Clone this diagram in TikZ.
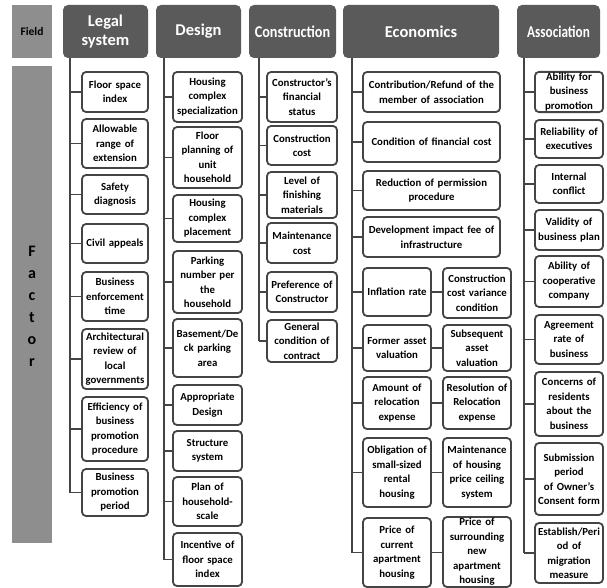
\documentclass[tikz,border=0pt]{standalone}
\usepackage{fontspec}
\setmainfont{Carlito}
\usepackage{graphicx}
\usepackage{tikz}
\usetikzlibrary{positioning, calc}
\definecolor{headgray}{HTML}{5A5A5A}
\definecolor{sidegray}{HTML}{8E8E8E}
\definecolor{linegray}{HTML}{444444}

\begin{document}
\begin{tikzpicture}[x=1pt,y=-1pt,
    fbox/.style={draw=linegray, line width=1.8pt, rounded corners=4pt, fill=white,
      align=center, inner xsep=2pt, inner ysep=1pt,
      font=\bfseries\fontsize{10.8}{14.5}\selectfont},
    head/.style={fill=headgray, rounded corners=5pt, text=white, align=center,
      minimum height=53pt, inner sep=0pt, font=\bfseries\fontsize{16.5}{19}\selectfont},
    side/.style={fill=sidegray, inner sep=0pt},
    tline/.style={draw=linegray, line width=1.5pt},
    legw/.style={text width=62pt},
    desw/.style={text width=65pt},
    conw/.style={text width=66pt},
    ecow/.style={text width=133pt},
    pairw/.style={text width=64pt},
    assw/.style={text width=64pt}]
      \useasboundingbox (0,0) rectangle (607,588);
      % column centres
      \pgfmathsetmacro{\legX}{115}
      \pgfmathsetmacro{\desX}{207.5}
      \pgfmathsetmacro{\conX}{302}
      \pgfmathsetmacro{\ecoX}{431.5}
      \pgfmathsetmacro{\eclX}{397}
      \pgfmathsetmacro{\ecrX}{477}
      \pgfmathsetmacro{\assX}{569}

      % left side bars
      \node[side, minimum width=40pt, minimum height=53pt, font=\bfseries\fontsize{11.5}{13}\selectfont]
        (field) at (32,31.5) {Field};
      \node[side, minimum width=40pt, minimum height=477pt] (factor) at (32,304.5) {};
      \foreach \ch [count=\i from 0] in {F,a,c,t,o,r}
        \node[anchor=base, inner sep=0pt, font=\bfseries\fontsize{16}{18}\selectfont]
          (fac\i) at (32,256+22*\i) {\ch};

      % trunk coordinates
      \coordinate (legT) at (70,58);
      \coordinate (desT) at (164,58);
      \coordinate (conT) at (259,58);
      \coordinate (ecoT) at (352,58);
      \coordinate (assT) at (524,58);

      % Legal system
      \node[fbox, legw, minimum height=40pt] (leg1) at (\legX,92) {Floor space\\index};
      \node[fbox, legw, minimum height=49pt] (leg2) at (\legX,143.5) {Allowable\\range of\\extension};
      \node[fbox, legw, minimum height=39pt] (leg3) at (\legX,194.5) {Safety\\diagnosis};
      \node[fbox, legw, minimum height=39pt] (leg4) at (\legX,243.5) {Civil appeals};
      \node[fbox, legw, minimum height=49pt] (leg5) at (\legX,296.5) {Business\\enforcement\\time};
      \node[fbox, legw, minimum height=60pt] (leg6) at (\legX,359) {Architectural\\review of\\local\\governments};
      \node[fbox, legw, minimum height=64pt] (leg7) at (\legX,429) {Efficiency of\\business\\promotion\\procedure};
      \node[fbox, legw, minimum height=47pt] (leg8) at (\legX,492.5) {Business\\promotion\\period};
      \draw[tline] (legT) -- (legT |- leg8.west);
      \foreach \i in {1,...,8}
        \draw[tline] (leg\i.west) -- (leg\i.west -| legT);

      % Design
      \node[fbox, desw, minimum height=50pt] (des1) at (\desX,97) {Housing\\complex\\specialization};
      \node[fbox, desw, minimum height=61pt] (des2) at (\desX,157.5) {Floor\\planning of\\unit\\household};
      \node[fbox, desw, minimum height=47pt] (des3) at (\desX,218.5) {Housing\\complex\\placement};
      \node[fbox, desw, minimum height=62pt] (des4) at (\desX,282) {Parking\\number per\\the\\household};
      \node[fbox, desw, minimum height=58pt] (des5) at (\desX,348) {Basement/De\\ck parking\\area};
      \node[fbox, desw, minimum height=40pt] (des6) at (\desX,405) {Appropriate\\Design};
      \node[fbox, desw, minimum height=40pt] (des7) at (\desX,451) {Structure\\system};
      \node[fbox, desw, minimum height=49pt] (des8) at (\desX,501.5) {Plan of\\household-\\scale};
      \node[fbox, desw, minimum height=53pt] (des9) at (\desX,559.5) {Incentive of\\floor space\\index};
      \draw[tline] (desT) -- (desT |- des9.west);
      \foreach \i in {1,...,9}
        \draw[tline] (des\i.west) -- (des\i.west -| desT);

      % Construction
      \node[fbox, conw, minimum height=50pt] (con1) at (\conX,97) {Constructor's\\financial\\status};
      \node[fbox, conw, minimum height=39pt] (con2) at (\conX,145.5) {Construction\\cost};
      \node[fbox, conw, minimum height=46pt] (con3) at (\conX,195) {Level of\\finishing\\materials};
      \node[fbox, conw, minimum height=40pt] (con4) at (\conX,243) {Maintenance\\cost};
      \node[fbox, conw, minimum height=40pt] (con5) at (\conX,292) {Preference of\\Constructor};
      \node[fbox, conw, minimum height=42pt] (con6) at (\conX,341) {General\\condition of\\contract};
      \draw[tline] (conT) -- (conT |- con6.west);
      \foreach \i in {1,...,6}
        \draw[tline] (con\i.west) -- (con\i.west -| conT);

      % Economics
      \node[fbox, ecow, minimum height=40pt] (eco1) at (\ecoX,92) {Contribution/Refund of the\\member of association};
      \node[fbox, ecow, minimum height=40pt] (eco2) at (\ecoX,142) {Condition of financial cost};
      \node[fbox, ecow, minimum height=39pt] (eco3) at (\ecoX,190.5) {Reduction of permission\\procedure};
      \node[fbox, ecow, minimum height=40pt] (eco4) at (\ecoX,237) {Development impact fee of\\infrastructure};
      \node[fbox, pairw, minimum height=48pt] (ecl5) at (\eclX,292) {Inflation rate};
      \node[fbox, pairw, minimum height=50pt] (ecr5) at (\ecrX,293) {Construction\\cost variance\\condition};
      \node[fbox, pairw, minimum height=46pt] (ecl6) at (\eclX,348) {Former asset\\valuation};
      \node[fbox, pairw, minimum height=46pt] (ecr6) at (\ecrX,348) {Subsequent\\asset\\valuation};
      \node[fbox, pairw, minimum height=52pt] (ecl7) at (\eclX,403) {Amount of\\relocation\\expense};
      \node[fbox, pairw, minimum height=52pt] (ecr7) at (\ecrX,403) {Resolution of\\Relocation\\expense};
      \node[fbox, pairw, minimum height=69pt] (ecl8) at (\eclX,472.5) {Obligation of\\small-sized\\rental\\housing};
      \node[fbox, pairw, minimum height=69pt] (ecr8) at (\ecrX,472.5) {Maintenance\\of housing\\price ceiling\\system};
      \node[fbox, pairw, minimum height=69pt] (ecl9) at (\eclX,552.5) {Price of\\current\\apartment\\housing};
      \node[fbox, pairw, minimum height=70pt] (ecr9) at (\ecrX,552) {Price of\\surrounding\\new\\apartment\\housing};
      \draw[tline] (ecoT) -- (ecoT |- ecl9.west);
      \foreach \i in {1,...,4}
        \draw[tline] (eco\i.west) -- (eco\i.west -| ecoT);
      \foreach \i in {5,...,9} {
        \draw[tline] (ecl\i.west) -- (ecl\i.west -| ecoT);
        \draw[tline] (ecl\i.east) -- (ecl\i.east -| ecr\i.west);
      }

      % Association
      \node[fbox, assw, minimum height=40pt] (ass1) at (\assX,92) {Ability for\\business\\promotion};
      \node[fbox, assw, minimum height=38pt] (ass2) at (\assX,139) {Reliability of\\executives};
      \node[fbox, assw, minimum height=38pt] (ass3) at (\assX,184) {Internal\\conflict};
      \node[fbox, assw, minimum height=40pt] (ass4) at (\assX,230) {Validity of\\business plan};
      \node[fbox, assw, minimum height=51pt] (ass5) at (\assX,281.5) {Ability of\\cooperative\\company};
      \node[fbox, assw, minimum height=49pt] (ass6) at (\assX,339.5) {Agreement\\rate of\\business};
      \node[fbox, assw, minimum height=64pt] (ass7) at (\assX,404) {Concerns of\\residents\\about the\\business};
      \node[fbox, assw, minimum height=72pt] (ass8) at (\assX,479) {Submission\\period\\of Owner's\\Consent form};
      \node[fbox, assw, minimum height=60pt] (ass9) at (\assX,553) {Establish/Peri\\od of\\migration\\measure};
      \draw[tline] (assT) -- (assT |- ass9.west);
      \foreach \i in {1,...,9}
        \draw[tline] (ass\i.west) -- (ass\i.west -| assT);

      % headers on top of the trunks
      \node[head, minimum width=85pt] (legH) at (105.5,31.5) {Legal\\system};
      \node[head, minimum width=85pt] (desH) at (198.5,31.5) {Design};
      \node[head, minimum width=87pt] (conH) at (292.5,31.5) {\scalebox{0.86}[1]{Construction}};
      \node[head, minimum width=156pt] (ecoH) at (421,31.5) {Economics};
      \node[head, minimum width=83pt] (assH) at (558.5,31.5) {\scalebox{0.8}[1]{Association}};
    \end{tikzpicture}
\end{document}
